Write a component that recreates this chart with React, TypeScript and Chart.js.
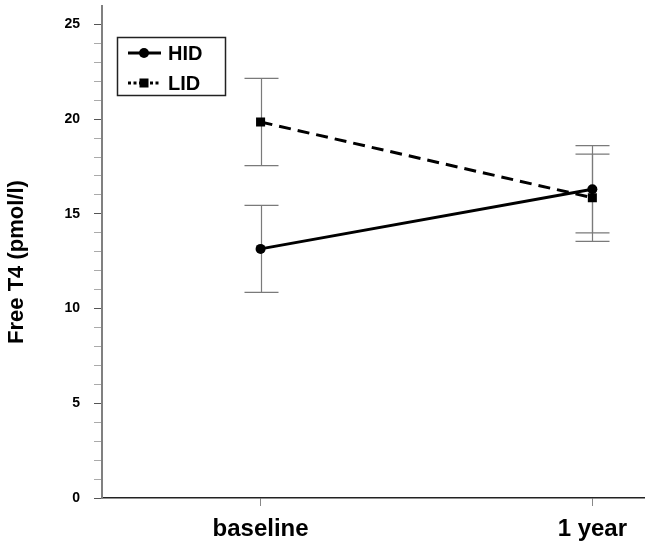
import React, { useEffect, useRef } from 'react';
import { Chart, registerables } from 'chart.js';

Chart.register(...registerables);

const categories = ['baseline', '1 year'];
const seriesLabels = ['HID', 'LID'];
const hidMean = [13.15, 16.3];
const hidSd = [2.3, 2.3];
const lidMean = [19.85, 15.85];
const lidSd = [2.3, 2.3];
const yTickValues = [0, 1, 2, 3, 4, 5, 6, 7, 8, 9, 10, 11, 12, 13, 14, 15, 16, 17, 18, 19, 20, 21, 22, 23, 24, 25];
const yLabelValues = [0, 5, 10, 15, 20, 25];
const yTitle = 'Free T4 (pmol/l)';

const FONT = '"Liberation Sans", Arial, Helvetica, sans-serif';

const errorBarsPlugin = {
  id: 'errorBars',
  beforeDatasetsDraw(chart: any) {
    const { ctx, scales } = chart;
    const x = scales.x;
    const y = scales.y;
    ctx.save();
    ctx.strokeStyle = '#7a7a7a';
    ctx.lineWidth = 1.2;
    const groups: [number[], number[]][] = [
      [hidMean, hidSd],
      [lidMean, lidSd],
    ];
    groups.forEach(([m, s]) => {
      m.forEach((v, i) => {
        const px = Math.round(x.getPixelForValue(i)) + 0.5;
        const top = y.getPixelForValue(v + s[i]);
        const bot = y.getPixelForValue(v - s[i]);
        ctx.beginPath();
        ctx.moveTo(px, top);
        ctx.lineTo(px, bot);
        ctx.moveTo(px - 17, top);
        ctx.lineTo(px + 17, top);
        ctx.moveTo(px - 17, bot);
        ctx.lineTo(px + 17, bot);
        ctx.stroke();
      });
    });
    ctx.restore();
  },
};

const decorPlugin = {
  id: 'decor',
  afterDraw(chart: any) {
    const { ctx } = chart;
    ctx.save();
    // y-axis title
    ctx.translate(17, 262);
    ctx.rotate(-Math.PI / 2);
    ctx.fillStyle = '#000';
    ctx.font = `bold 22px ${FONT}`;
    ctx.textAlign = 'center';
    ctx.textBaseline = 'middle';
    ctx.fillText(yTitle, 0, 0);
    ctx.restore();

    // legend
    ctx.save();
    ctx.strokeStyle = '#222';
    ctx.lineWidth = 1.5;
    ctx.strokeRect(117.5, 37.5, 108, 58);
    const rows = [53, 83];
    chart.data.datasets.forEach((ds: any, i: number) => {
      const yy = rows[i];
      ctx.strokeStyle = '#000';
      ctx.fillStyle = '#000';
      ctx.lineWidth = 3;
      ctx.setLineDash(i === 0 ? [] : [3, 2.5]);
      ctx.beginPath();
      ctx.moveTo(128, yy);
      ctx.lineTo(161, yy);
      ctx.stroke();
      ctx.setLineDash([]);
      if (i === 0) {
        ctx.beginPath();
        ctx.arc(144, yy, 5, 0, Math.PI * 2);
        ctx.fill();
      } else {
        ctx.fillRect(139.5, yy - 4.5, 9, 9);
      }
      ctx.font = `bold 20px ${FONT}`;
      ctx.textAlign = 'left';
      ctx.textBaseline = 'middle';
      ctx.fillText(ds.label, 168, yy + 1);
    });
    ctx.restore();
  },
};

export default function App() {
  const canvasRef = useRef<HTMLCanvasElement | null>(null);

  useEffect(() => {
    const canvas = canvasRef.current;
    if (!canvas) return;
    const chart = new Chart(canvas, {
      type: 'line',
      data: {
        datasets: [
          {
            label: seriesLabels[0],
            data: categories.map((_, i) => ({ x: i, y: hidMean[i] })),
            borderColor: '#000',
            backgroundColor: '#000',
            borderWidth: 3,
            pointStyle: 'circle',
            pointRadius: 5,
            pointBorderWidth: 0,
            tension: 0,
          },
          {
            label: seriesLabels[1],
            data: categories.map((_, i) => ({ x: i, y: lidMean[i] })),
            borderColor: '#000',
            backgroundColor: '#000',
            borderWidth: 3,
            borderDash: [12, 7],
            pointStyle: 'rect',
            pointRadius: 6.4,
            pointBorderWidth: 0,
            tension: 0,
          },
        ],
      },
      options: {
        responsive: false,
        animation: false,
        layout: { padding: { top: 5, right: 6, left: 0, bottom: 0 } },
        plugins: {
          legend: { display: false },
          tooltip: { enabled: false },
        },
        scales: {
          x: {
            type: 'linear',
            min: -0.478,
            max: 1.1575,
            afterBuildTicks: (s: any) => {
              s.ticks = categories.map((_, i) => ({ value: i }));
            },
            afterFit: (s: any) => {
              s.height = 53;
              s.paddingLeft = 0;
              s.paddingRight = 0;
            },
            ticks: {
              callback: (v: any) => categories[v] ?? '',
              font: { family: FONT, size: 24, weight: 'bold' },
              color: '#000',
              padding: 9,
              maxRotation: 0,
              autoSkip: false,
            },
            grid: { drawOnChartArea: false, tickLength: 8, color: '#888', lineWidth: 1 },
            border: { color: '#222', width: 1.5 },
          },
          y: {
            type: 'linear',
            min: 0,
            max: 25.95,
            afterBuildTicks: (s: any) => {
              s.ticks = yTickValues.map((v) => ({ value: v }));
            },
            afterFit: (s: any) => {
              s.width = 102;
              s.paddingTop = 0;
              s.paddingBottom = 0;
            },
            ticks: {
              callback: (v: any) => (yLabelValues.includes(v) ? String(v) : ''),
              font: { family: FONT, size: 14, weight: 'bold' },
              color: '#000',
              padding: 14,
              autoSkip: false,
            },
            grid: {
              drawOnChartArea: false,
              tickLength: 8,
              lineWidth: 1,
              color: (c: any) => (c.tick && yLabelValues.includes(c.tick.value) ? '#555' : '#aaa'),
            },
            border: { color: '#808080', width: 2 },
          },
        },
      },
      plugins: [errorBarsPlugin, decorPlugin],
    } as any);
    return () => chart.destroy();
  }, []);

  return (
    <div style={{ position: 'fixed', left: 0, top: 0, width: 651, height: 551, background: '#fff' }}>
      <canvas ref={canvasRef} width={651} height={551} style={{ display: 'block' }} />
    </div>
  );
}
